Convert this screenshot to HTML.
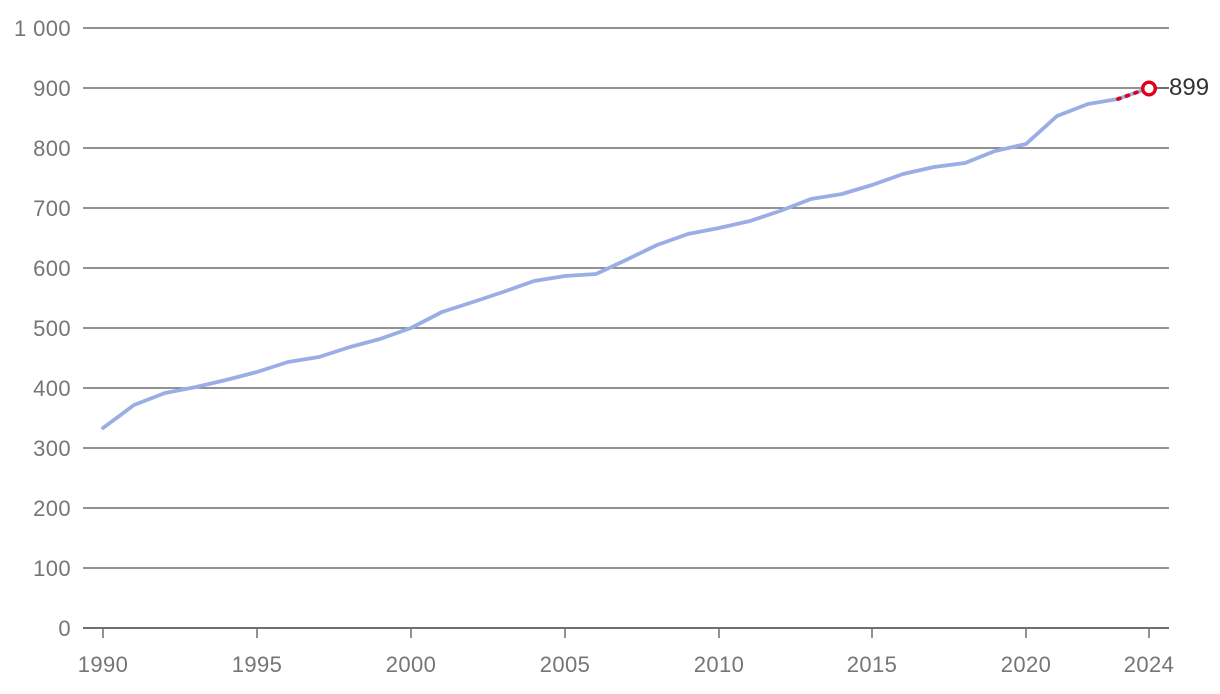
<!DOCTYPE html>
<html><head><meta charset="utf-8"><style>
html,body{margin:0;padding:0;background:#fff;}
svg{display:block;font-family:"Liberation Sans","DejaVu Sans",sans-serif;}
</style></head><body>
<svg width="1220" height="694" viewBox="0 0 1220 694" xmlns="http://www.w3.org/2000/svg">
<g stroke="#6e6e6e" stroke-width="1.5">
<line x1="83" y1="28" x2="1169" y2="28"/>
<line x1="83" y1="88" x2="1169" y2="88"/>
<line x1="83" y1="148" x2="1169" y2="148"/>
<line x1="83" y1="208" x2="1169" y2="208"/>
<line x1="83" y1="268" x2="1169" y2="268"/>
<line x1="83" y1="328" x2="1169" y2="328"/>
<line x1="83" y1="388" x2="1169" y2="388"/>
<line x1="83" y1="448" x2="1169" y2="448"/>
<line x1="83" y1="508" x2="1169" y2="508"/>
<line x1="83" y1="568" x2="1169" y2="568"/>
<line x1="83" y1="628" x2="1169" y2="628" stroke-width="2"/>
<line x1="103" y1="628" x2="103" y2="638"/>
<line x1="257" y1="628" x2="257" y2="638"/>
<line x1="411" y1="628" x2="411" y2="638"/>
<line x1="565" y1="628" x2="565" y2="638"/>
<line x1="719" y1="628" x2="719" y2="638"/>
<line x1="872" y1="628" x2="872" y2="638"/>
<line x1="1026" y1="628" x2="1026" y2="638"/>
<line x1="1149" y1="628" x2="1149" y2="638"/>
</g>
<g fill="#757575" font-size="22" text-anchor="end" letter-spacing="0.4">
<text x="71" y="36">1 000</text>
<text x="71" y="96">900</text>
<text x="71" y="156">800</text>
<text x="71" y="216">700</text>
<text x="71" y="276">600</text>
<text x="71" y="336">500</text>
<text x="71" y="396">400</text>
<text x="71" y="456">300</text>
<text x="71" y="516">200</text>
<text x="71" y="576">100</text>
<text x="71" y="636">0</text>
</g>
<g fill="#757575" font-size="22" text-anchor="middle" letter-spacing="0.4">
<text x="103" y="672">1990</text>
<text x="257" y="672">1995</text>
<text x="411" y="672">2000</text>
<text x="565" y="672">2005</text>
<text x="719" y="672">2010</text>
<text x="872" y="672">2015</text>
<text x="1026" y="672">2020</text>
<text x="1149" y="672">2024</text>
</g>
<polyline fill="none" stroke="#9aaee6" stroke-width="3.8" stroke-linejoin="round" stroke-linecap="round"
points="103,428 134,405 165,393 196,387 226,380 257,372 288,362 319,357 350,347 380,339 411,328 442,312 473,302 503,292 534,281 565,276 596,274 626,260 657,245 688,234 719,228 750,221 780,211 811,199 842,194 872,185 903,174 934,167 965,163 995,151 1026,144 1057,116 1088,104 1118,99 1149,88"/>
<line x1="1118" y1="99" x2="1149" y2="88" stroke="#e0001a" stroke-width="3.8" stroke-dasharray="2 7" stroke-linecap="round"/>
<line x1="1149" y1="88" x2="1169" y2="88" stroke="#555" stroke-width="1.5"/>
<circle cx="1149" cy="88.5" r="6.3" fill="#fff" stroke="#e0001a" stroke-width="3.4"/>
<text x="1169" y="95" font-size="24" fill="#333">899</text>
</svg>
</body></html>
